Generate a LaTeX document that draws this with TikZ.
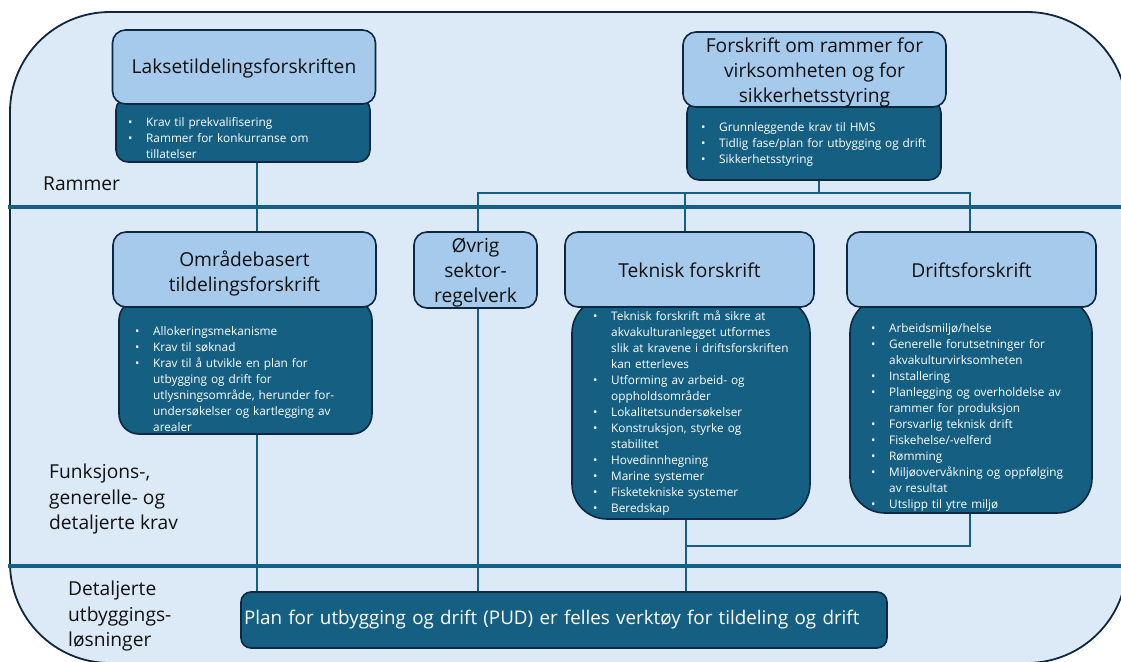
\documentclass[tikz,border=0pt]{standalone}
\usepackage{fontspec}
\setmainfont{Open Sans}
\usetikzlibrary{backgrounds}
\definecolor{bgc}{HTML}{DCE9F6}
\definecolor{lightb}{HTML}{A6CAEC}
\definecolor{darkb}{HTML}{156082}
\definecolor{navy}{HTML}{0E2841}
\definecolor{txt}{HTML}{111111}
\newcommand{\titlefont}{\fontsize{19.2}{25}\selectfont}
\newcommand{\lblfont}{\fontsize{19.2}{25.5}\selectfont}
\newcommand{\pudfont}{\fontsize{18.8}{24}\selectfont}
\newcommand{\bulfont}{\fontsize{11.8}{16}\selectfont}
\newcommand{\itm}[1]{\par\hangindent=18pt\hangafter=1\noindent\makebox[18pt][l]{\textbullet}#1\par}
\newcommand{\nl}{\break}
\tikzset{
  outershape/.style={draw=navy, line width=1.8pt, fill=bgc, rounded corners=100pt},
  band/.style={draw=darkb, line width=4pt},
  conn/.style={draw=darkb, line width=2pt},
  lightbox/.style={draw=navy, line width=1.6pt, fill=lightb, rounded corners=13pt, inner sep=0pt},
  ttl/.style={text=txt, font=\titlefont, align=center, inner sep=0pt},
  darkbox/.style={draw=navy, line width=1.6pt, fill=darkb, rounded corners=#1, inner sep=0pt},
  darkbox/.default=12pt,
  bul/.style={text=white, font=\bulfont, text width=250pt, align=left, inner sep=0pt, anchor=north west},
  lbl/.style={text=txt, font=\lblfont, align=left, inner sep=0pt, anchor=north west},
  pudbox/.style={draw=navy, line width=1.6pt, fill=darkb, rounded corners=10pt, text=white, font=\pudfont, text width=640pt, align=left, inner xsep=3pt, inner ysep=0pt}
}
\pgfdeclarelayer{bg}
\pgfsetlayers{bg,main}
\begin{document}
\begin{tikzpicture}[x=1pt,y=-1pt]
\useasboundingbox (0,0) rectangle (1121,661);
\clip (0,0) rectangle (1121,661);

% dark boxes
\node[darkbox=12pt, minimum width=254pt, minimum height=64pt] (laksed) at (243,130) {};
\node[darkbox=12pt, minimum width=254pt, minimum height=79pt] (fd) at (814,140.5) {};
\node[darkbox=20pt, minimum width=253pt, minimum height=134pt] (omrd) at (245.5,367) {};
\node[darkbox=35pt, minimum width=238pt, minimum height=221pt] (tekd) at (691,408.5) {};
\node[darkbox=35pt, minimum width=242pt, minimum height=215pt] (drd) at (971,405.5) {};

% light boxes
\node[lightbox, minimum width=263pt, minimum height=74pt] (laksel) at (244,67) {};
\node[lightbox, minimum width=263pt, minimum height=75pt] (fl) at (814.5,69.5) {};
\node[lightbox, minimum width=263pt, minimum height=75pt] (omrl) at (244.5,269.5) {};
\node[lightbox, minimum width=123pt, minimum height=76pt] (ovr) at (475.5,270) {};
\node[lightbox, minimum width=249pt, minimum height=75pt] (tekl) at (689.5,269.5) {};
\node[lightbox, minimum width=249pt, minimum height=75pt] (drl) at (971.5,269.5) {};

% titles
\node[ttl] (laksetitle) at ([yshift=-1pt]laksel.center) {Laksetildelingsforskriften};
\node[ttl] (ftitle) at ([yshift=-3pt]fl.center) {Forskrift om rammer for\\virksomheten og for\\sikkerhetsstyring};
\node[ttl] (omrtitle) at ([yshift=-4pt]omrl.center) {Områdebasert\\tildelingsforskrift};
\node[ttl] (ovrtitle) at ([yshift=-3pt]ovr.center) {Øvrig\\sektor-\\regelverk};
\node[ttl] (tektitle) at ([yshift=-1pt]tekl.center) {Teknisk forskrift};
\node[ttl] (drtitle) at ([yshift=-1pt]drl.center) {Driftsforskrift};

% bullet texts
\node[bul] (laksetx) at (128,110) {\itm{Krav til prekvalifisering}\itm{Rammer for konkurranse om\nl tillatelser}};
\node[bul] (ftx) at (701,115) {\itm{Grunnleggende krav til HMS}\itm{Tidlig fase/plan for utbygging og drift}\itm{Sikkerhetsstyring}};
\node[bul] (omrtx) at (135,319) {\itm{Allokeringsmekanisme}\itm{Krav til søknad}\itm{Krav til å utvikle en plan for\nl utbygging og drift for\nl utlysningsområde, herunder for-\nl undersøkelser og kartlegging av\nl arealer}};
\node[bul] (tektx) at (593,304) {\itm{Teknisk forskrift må sikre at\nl akvakulturanlegget utformes\nl slik at kravene i driftsforskriften\nl kan etterleves}\itm{Utforming av arbeid- og\nl oppholdsområder}\itm{Lokalitetsundersøkelser}\itm{Konstruksjon, styrke og\nl stabilitet}\itm{Hovedinnhegning}\itm{Marine systemer}\itm{Fisketekniske systemer}\itm{Beredskap}};
\node[bul] (drtx) at (871,316) {\itm{Arbeidsmiljø/helse}\itm{Generelle forutsetninger for\nl akvakulturvirksomheten}\itm{Installering}\itm{Planlegging og overholdelse av\nl rammer for produksjon}\itm{Forsvarlig teknisk drift}\itm{Fiskehelse/-velferd}\itm{Rømming}\itm{Miljøovervåkning og oppfølging\nl av resultat}\itm{Utslipp til ytre miljø}};

% PUD
\node[pudbox, minimum height=56pt] (pud) at (564,620) {Plan for utbygging og drift (PUD) er felles verktøy for tildeling og drift};

% row labels
\node[lbl, anchor=base west] (rammer) at (43,190) {Rammer};
\node[lbl] (funk) at (49,464) {Funksjons-,\\generelle- og\\detaljerte krav};
\node[lbl] (detal) at (68,581) {Detaljerte\\utbyggings-\\løsninger};

% background, bands and connectors
\begin{pgfonlayer}{bg}
\draw[outershape] (10,12) rectangle (1127,663);
\coordinate (cl) at (257,193);
\coordinate (fj) at (819,193);
\coordinate (hl) at (478,193);
\coordinate (tj) at (685,193);
\coordinate (hr) at (970,193);
\coordinate (bj) at (686,546);
\draw[conn] (cl |- laksed.south) -- (cl |- omrl.north);
\draw[conn] (cl |- omrd.south) -- (cl |- pud.north);
\draw[conn] (fj |- fd.south) -- (fj);
\draw[conn] (hl |- ovr.north) -- (hl) -- (hr) -- (hr |- drl.north);
\draw[conn] (tj) -- (tj |- tekl.north);
\draw[conn] (hl |- ovr.south) -- (hl |- pud.north);
\draw[conn] (bj |- tekd.south) -- (bj |- pud.north);
\draw[conn] (hr |- drd.south) -- (hr |- bj) -- (bj);
\coordinate (b1l) at (8,207);
\coordinate (b1r) at (1125,207);
\coordinate (b2l) at (8,566);
\coordinate (b2r) at (1125,566);
\draw[band] (b1l) -- (b1r);
\draw[band] (b2l) -- (b2r);
\end{pgfonlayer}
\end{tikzpicture}
\end{document}
